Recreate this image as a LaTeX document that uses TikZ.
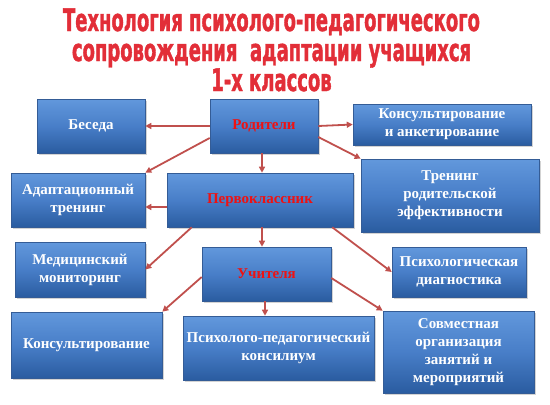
\documentclass[tikz,border=0pt]{standalone}
\usepackage{fontspec}
\setmainfont{Liberation Serif}
\newfontfamily\titlefont{DejaVu Sans}[UprightFont=* Bold, FakeStretch=0.58, FakeBold=1.2]
\usepackage{tikz}
\usetikzlibrary{arrows.meta, shadows, calc}
\definecolor{boxtop}{RGB}{98,152,220}
\definecolor{boxmid}{RGB}{72,126,200}
\definecolor{boxbot}{RGB}{42,92,160}
\definecolor{boxedge}{RGB}{52,92,150}
\definecolor{arrowred}{RGB}{192,80,77}
\definecolor{titlered}{RGB}{226,46,56}
\definecolor{labelred}{RGB}{238,18,18}

\begin{document}
\begin{tikzpicture}[x=1pt, y=-1pt,
  every node/.style={font=\fontsize{15}{18}\selectfont\bfseries},
  block/.style={draw=boxedge, line width=0.6pt, top color=boxtop,
    bottom color=boxbot, middle color=boxmid, text=white, align=center,
    inner sep=2pt,
    drop shadow={shadow xshift=2pt, shadow yshift=-2pt, opacity=0.35}},
  keyblock/.style={block, text=labelred},
  link/.style={draw=arrowred, line width=1.8pt,
    -{Triangle[length=6pt, width=6pt]}},
  titletext/.style={font=\titlefont\fontsize{31}{30}\selectfont,
    align=center, text=titlered, inner sep=0pt}]
  \useasboundingbox (0,0) rectangle (550,405);

  % Title
  \node[titletext, anchor=base] (title) at (271.5,91)
    {Технология психолого-педагогического\\
     сопровождения~ адаптации учащихся\\
     1-х классов};

  % Central column
  \node[keyblock, minimum width=108, minimum height=54] (parents) at (264,126) {Родители};
  \node[keyblock, minimum width=186, minimum height=54] (pupil) at (260,200) {Первоклассник};
  \node[keyblock, minimum width=129, minimum height=54] (teachers) at (266.5,274) {Учителя};

  % Forms of work
  \node[block, minimum width=108, minimum height=54] (talk) at (91,126) {Беседа};
  \node[block, minimum width=178, minimum height=41] (survey) at (442,124.5)
    {Консультирование\\и анкетирование};
  \node[block, minimum width=134, minimum height=54] (adapt) at (78,200)
    {Адаптационный\\тренинг};
  \node[block, minimum width=178, minimum height=73] (training) at (450,195.5)
    {Тренинг\\родительской\\эффективности};
  \node[block, minimum width=130, minimum height=55] (medic) at (80,269.5)
    {Медицинский\\мониторинг};
  \node[block, minimum width=134, minimum height=50] (diagn) at (459,272)
    {Психологическая\\диагностика};
  \node[block, minimum width=151, minimum height=66] (consult) at (86.5,345)
    {Консультирование};
  \node[block, minimum width=191, minimum height=64] (council) at (278.5,348)
    {Психолого-педагогический\\консилиум};
  \node[block, minimum width=151, minimum height=82] (joint) at (458.5,352)
    {Совместная\\организация\\занятий и\\мероприятий};

  % Links
  \draw[link] (parents.west) -- (talk.east);
  \draw[link] (parents.east) -- (survey.west);
  \draw[link] ([yshift=-12pt]parents.west) -- (adapt.north east);
  \draw[link] ([yshift=-11pt]parents.east) -- (training.north west);
  \draw[link] ([xshift=-2pt]parents.south) -- ([xshift=-2pt]parents.south |- pupil.north);
  \draw[link] ([yshift=-7pt]pupil.west) -- ([yshift=-7pt]pupil.west -| adapt.east);
  \draw[link] ([xshift=25pt]pupil.south west) -- (medic.east);
  \draw[link] ([xshift=-21pt]pupil.south east) -- (diagn.west);
  \draw[link] ([xshift=2pt]pupil.south) -- ([xshift=2pt]pupil.south |- teachers.north);
  \draw[link] ([yshift=-3pt]teachers.west) -- (consult.north east);
  \draw[link] ([xshift=-1.5pt]teachers.south) -- ([xshift=-1.5pt]teachers.south |- council.north);
  \draw[link] ([yshift=-4pt]teachers.east) -- (joint.north west);
\end{tikzpicture}
\end{document}
